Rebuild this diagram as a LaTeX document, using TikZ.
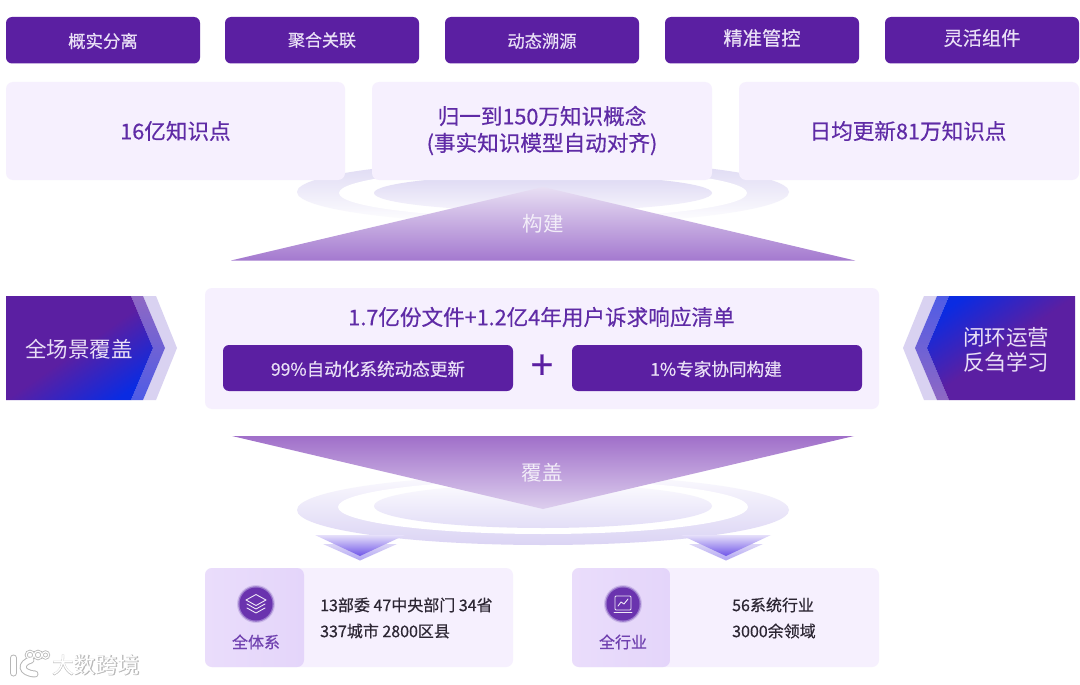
\documentclass[tikz,border=0pt]{standalone}
\usepackage{fontspec}
\setmainfont{Noto Sans CJK SC}
\newfontfamily\medfont[FakeBold=0.5]{Noto Sans CJK SC}
\newfontfamily\wmbold[FakeBold=2.2]{Noto Sans CJK SC}
\definecolor{deep}{HTML}{5B1FA2}
\definecolor{pale}{HTML}{F6F0FE}
\definecolor{panel}{HTML}{E7D9FB}
\definecolor{titlec}{HTML}{5F2BA6}
\definecolor{btntext}{HTML}{E9DFF6}
\definecolor{darktext}{HTML}{2C2633}
\definecolor{arrowblue}{HTML}{0A2BE2}
\definecolor{ringa}{HTML}{DDD8F3}
\definecolor{ringb}{HTML}{F6F4FC}
\definecolor{ringc}{HTML}{FBFAFE}
\definecolor{ringd}{HTML}{DBD4F4}
\definecolor{ringe}{HTML}{E3DEF7}
\definecolor{chevpale}{HTML}{D9D2F1}
\definecolor{chevmidp}{HTML}{8E68C4}
\definecolor{chevmidb}{HTML}{4F5CE6}
\definecolor{triup}{HTML}{E8DFF3}
\definecolor{tridn}{HTML}{A479CF}
\definecolor{tribup}{HTML}{A06FC9}
\definecolor{tribdn}{HTML}{DDCFEE}
\definecolor{smalla}{HTML}{D9D2F6}
\definecolor{smallb}{HTML}{A99CF2}
\definecolor{smallc}{HTML}{E6E0FA}
\definecolor{smalld}{HTML}{6F55E8}
\definecolor{panela}{HTML}{EADDFB}
\definecolor{panelb}{HTML}{E4D5FA}
\definecolor{glowa}{HTML}{CDBBEA}
\definecolor{glowb}{HTML}{9A78CC}
\definecolor{disc}{HTML}{6A33AE}
\definecolor{wmgray}{HTML}{B7B7B7}
\pgfdeclarehorizontalshading{purpblue}{100bp}{color(0bp)=(deep); color(50bp)=(deep); color(76bp)=(arrowblue); color(100bp)=(arrowblue)}
\pgfdeclarehorizontalshading{purpblueR}{100bp}{color(0bp)=(arrowblue); color(24bp)=(arrowblue); color(50bp)=(deep); color(100bp)=(deep)}
\tikzset{
  pill/.style={fill=deep,rounded corners=6},
  palebox/.style={fill=pale,rounded corners=7},
  pilltext/.style={text=btntext,inner sep=0,font=\medfont\fontsize{#1}{#1}\selectfont},
  headtext/.style={text=titlec,inner sep=0,font=\medfont\fontsize{21.6}{21.6}\selectfont,align=center},
  bodytext/.style={text=darktext,inner sep=0,anchor=west,font=\medfont\fontsize{16}{16}\selectfont},
  paneltext/.style={text=titlec!90!white,inner sep=0,font=\medfont\fontsize{16}{16}\selectfont},
  arrowtext/.style={text=btntext,inner sep=0,font=\fontsize{21.5}{21.5}\selectfont,align=center},
  tritext/.style={text=white!92!deep,inner sep=0,font=\fontsize{20.5}{20.5}\selectfont},
  iconline/.style={draw=white!90!deep,line width=0.9,line join=round,line cap=round}
}
\begin{document}
\begin{tikzpicture}[x=1pt,y=-1pt]
\useasboundingbox (0,0) rectangle (1080,685);
\fill[white] (0,0) rectangle (1080,685);

% top ellipses
\shade[top color=ringa,bottom color=white] (543,192) ellipse [x radius=246,y radius=32];
\fill[white] (543,193) ellipse [x radius=204,y radius=25];
\shade[top color=ringa,bottom color=ringb] (543,193) ellipse [x radius=169,y radius=18];

% top pills
\foreach \nm/\xa/\txt/\ty/\fs in {p1/6/概实分离/41/17.4,p2/225/聚合关联/40/17,p3/445/动态溯源/41/17.3,p4/665/精准管控/38/19.3,p5/885/灵活组件/38/19.2}{
  \fill[pill] (\xa,17) rectangle ++(194,46.5);
  \node[pilltext=\fs] (\nm) at (\xa+97,\ty) {\txt};
}

% knowledge boxes
\fill[palebox] (6,82) rectangle (345,180);
\fill[palebox] (372,82) rectangle (712,180);
\fill[palebox] (739,82) rectangle (1079,180);
\node[headtext] (b1) at (175.5,131) {16亿知识点};
\node[headtext] (b2a) at (542,116) {归一到150万知识概念};
\node[headtext] (b2b) at (542,144) {(事实知识模型自动对齐)};
\node[headtext] (b3) at (908,131) {日均更新81万知识点};

% build triangle
\shade[top color=triup,bottom color=tridn] (231,260.5) -- (543,187) -- (855,260.5) -- cycle;
\node[tritext] (build) at (543,224) {构建};

% left arrow
\fill[chevpale] (143,296) -- (156,296) -- (177,348) -- (156,400) -- (143,400) -- (165,348) -- cycle;
\shade[top color=chevmidp,bottom color=chevmidb] (131,296) -- (143,296) -- (165,348) -- (143,400) -- (131,400) -- (153,348) -- cycle;
\shade[shading=purpblue,shading angle=-55] (6,296) -- (131,296) -- (153,348) -- (131,400) -- (6,400) -- cycle;
\node[arrowtext] (lefttxt) at (79,349) {全场景覆盖};

% right arrow
\fill[chevpale] (937,296) -- (924,296) -- (903,348) -- (924,400) -- (937,400) -- (915,348) -- cycle;
\shade[top color=chevmidb,bottom color=chevmidp] (949,296) -- (937,296) -- (915,348) -- (937,400) -- (949,400) -- (927,348) -- cycle;
\shade[shading=purpblueR,shading angle=-55] (1075,296) -- (949,296) -- (927,348) -- (949,400) -- (1075,400) -- cycle;
\node[arrowtext] (righta) at (1006,337) {闭环运营};
\node[arrowtext] (rightb) at (1006,362) {反刍学习};

% centre box
\fill[palebox] (205,288) rectangle (879,409);
\node[headtext] (title) at (541.5,317) {1.7亿份文件+1.2亿4年用户诉求响应清单};
\fill[pill] (223,345) rectangle (513,391);
\fill[pill] (572,345) rectangle (862,391);
\node[pilltext=17.6] (btn1) at (368,369) {99\%自动化系统动态更新};
\node[pilltext=17.6] (btn2) at (716,369) {1\%专家协同构建};
\node[text=deep,inner sep=0,font=\medfont\fontsize{40}{40}\selectfont] (plus) at (542,367) {+};

% bottom ellipses
\shade[top color=ringc,bottom color=ringd] (543,510) ellipse [x radius=246,y radius=35];
\fill[white] (543,507) ellipse [x radius=205,y radius=27];
\shade[top color=ringc,bottom color=ringe] (543,506) ellipse [x radius=169,y radius=22];

% cover triangle
\shade[top color=tribup,bottom color=tribdn] (232,436) -- (854,436) -- (543,509) -- cycle;
\node[tritext] (cover) at (542,473) {覆盖};

% small down arrows
\foreach \cx in {360,726}{
  \shade[top color=smalla,bottom color=smallb,opacity=.9] (\cx-37,544) -- (\cx+37,544) -- (\cx,560.5) -- cycle;
  \shade[top color=smallc,bottom color=smalld] (\cx-45,535) -- (\cx+45,535) -- (\cx,556) -- cycle;
}

% bottom cards
\fill[palebox] (205,568) rectangle (513,667);
\fill[palebox] (572,568) rectangle (879,667);
\shade[left color=panela,right color=panelb,rounded corners=7] (205,568) rectangle (304,667);
\shade[left color=panela,right color=panelb,rounded corners=7] (572,568) rectangle (670,667);

% icon 1
\fill[glowa] (256,604) circle (19);
\fill[glowb] (256,604) circle (17.8);
\fill[disc] (256,604) circle (16.5);
\draw[iconline] (256,594.5) -- (266,600) -- (256,605.5) -- (246,600) -- cycle;
\draw[iconline] (247,604) -- (256,609) -- (265,604);
\draw[iconline] (247,608) -- (256,613) -- (265,608);
\node[paneltext] (sys) at (256,642) {全体系};

% icon 2
\fill[glowa] (623,604) circle (19);
\fill[glowb] (623,604) circle (17.8);
\fill[disc] (623,604) circle (16.5);
\draw[iconline,rounded corners=1] (615,596) rectangle (631,610);
\draw[iconline] (614,612.5) -- (632,612.5);
\draw[iconline] (618,606) -- (621,602) -- (624,604) -- (628,599);
\node[paneltext] (ind) at (623,642) {全行业};

\node[bodytext] (t1a) at (320,605) {13部委 47中央部门 34省};
\node[bodytext] (t1b) at (320,631) {337城市 2800区县};
\node[bodytext] (t2a) at (732,605) {56系统行业};
\node[bodytext] (t2b) at (732,631) {3000余领域};

% watermark
\begin{scope}[line cap=round]
  \foreach \col/\lw/\lwb in {wmgray/7/2.8,white/5/1.2}{
    \draw[\col,line width=\lw] (13.5,658) -- (13.5,673);
    \draw[\col,line width=\lw] (31,660) .. controls (20,663) and (20,673) .. (35,674);
    \draw[\col,line width=\lwb] (30,655) circle (3.8);
    \draw[\col,line width=\lwb] (38,655) circle (3.8);
    \draw[\col,line width=\lwb] (45.5,655) circle (3.2);
  }
\end{scope}
\node[text=wmgray,inner sep=0,font=\wmbold\fontsize{22}{22}\selectfont] (wma) at (96,665) {大数跨境};
\node[text=white,inner sep=0,font=\fontsize{22}{22}\selectfont] (wmb) at (96,665) {大数跨境};
\end{tikzpicture}
\end{document}
